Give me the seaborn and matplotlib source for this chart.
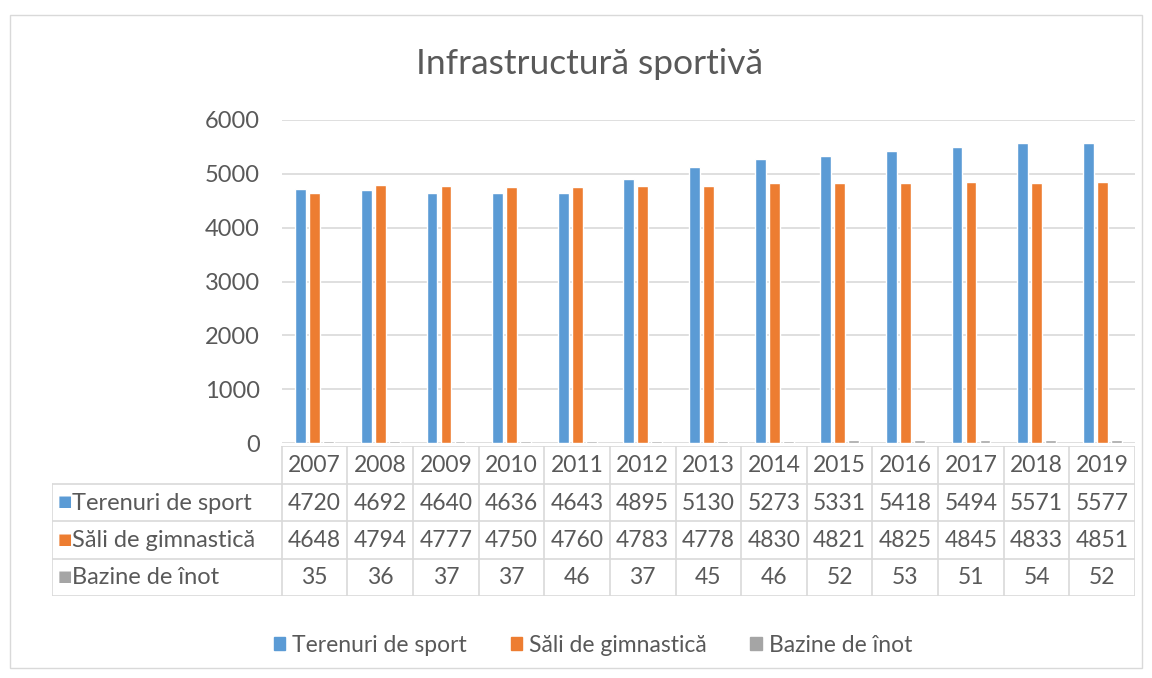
import numpy as np
import pandas as pd
import seaborn as sns
import matplotlib.pyplot as plt
from matplotlib.patches import Rectangle

years = ["2007", "2008", "2009", "2010", "2011", "2012", "2013",
         "2014", "2015", "2016", "2017", "2018", "2019"]
series_names = ["Terenuri de sport", "Săli de gimnastică", "Bazine de înot"]
terenuri = [4720, 4692, 4640, 4636, 4643, 4895, 5130, 5273, 5331, 5418, 5494, 5571, 5577]
sali = [4648, 4794, 4777, 4750, 4760, 4783, 4778, 4830, 4821, 4825, 4845, 4833, 4851]
bazine = [35, 36, 37, 37, 46, 37, 45, 46, 52, 53, 51, 54, 52]
colors = ["#5B9BD5", "#ED7D31", "#A5A5A5"]

df = pd.DataFrame({
    "An": years * 3,
    "Serie": np.repeat(series_names, len(years)),
    "Valoare": terenuri + sali + bazine,
})

sns.set_style("white")
plt.rcParams["font.family"] = ["Lato", "DejaVu Sans"]
txt = "#595959"
grid = "#D9D9D9"

W, H = 1152, 678
fig = plt.figure(figsize=(W / 100, H / 100), dpi=100)

# chart frame
fig.patches.append(Rectangle((10 / W, 1 - 668 / H), 1132 / W, 653 / H,
                             transform=fig.transFigure, fill=False,
                             edgecolor=grid, lw=1))

ax = fig.add_axes([282 / W, 1 - 443 / H, (1135 - 282) / W, (443 - 120) / H])
sns.barplot(data=df, x="An", y="Valoare", hue="Serie", palette=colors,
            saturation=1, width=0.64, gap=0.22, ax=ax, legend=False)
ax.set_ylim(0, 6000)
ax.set_xlim(-0.5, len(years) - 0.5)
ax.set_yticks(range(0, 6001, 1000))
ax.yaxis.grid(True, color=grid, lw=1.2)
ax.set_axisbelow(True)
for s in ax.spines.values():
    s.set_visible(False)
ax.set_xticks([])
ax.set_xlabel("")
ax.set_ylabel("")
ax.tick_params(axis="y", length=0, pad=16, labelsize=17, labelcolor=txt)

fig.text(589 / W, 1 - 64 / H, "Infrastructură sportivă", ha="center",
         va="center", fontsize=25.5, color=txt)

# data table below the chart
tab = fig.add_axes([52 / W, 1 - 596 / H, (1135 - 52) / W, (596 - 446) / H])
n = len(years)
tab.set_xlim(-4, n - 0.5)
tab.set_ylim(4, 0)
tab.axis("off")
lc = dict(color=grid, lw=1.2)
tab.plot([-0.5, n - 0.5], [0, 0], **lc)
for r in range(1, 5):
    tab.plot([-4, n - 0.5], [r, r], **lc)
tab.plot([-4, -4], [1, 4], **lc)
for k in range(n + 1):
    tab.plot([k - 0.5, k - 0.5], [0, 4], **lc)
rows = [terenuri, sali, bazine]
for i, y in enumerate(years):
    tab.text(i, 0.52, y, ha="center", va="center", fontsize=16.5, color=txt)
    for r, vals in enumerate(rows):
        tab.text(i, r + 1.52, str(vals[i]), ha="center", va="center",
                 fontsize=16.5, color=txt)
for r, name in enumerate(series_names):
    tab.text(-3.92, r + 1.5, "■", ha="left", va="center", fontsize=11,
             color=colors[r])
    tab.text(-3.7, r + 1.52, name, ha="left", va="center", fontsize=17,
             color=txt)

handles = [Rectangle((0, 0), 1, 1, color=c) for c in colors]
fig.legend(handles, series_names, loc="center", ncol=3,
           bbox_to_anchor=(593 / W, 1 - 645 / H), frameon=False,
           fontsize=16.5, labelcolor=txt, handlelength=0.5, handleheight=0.5,
           handletextpad=0.3, columnspacing=1.9)

fig.savefig("out.png", dpi=100, facecolor="white")
